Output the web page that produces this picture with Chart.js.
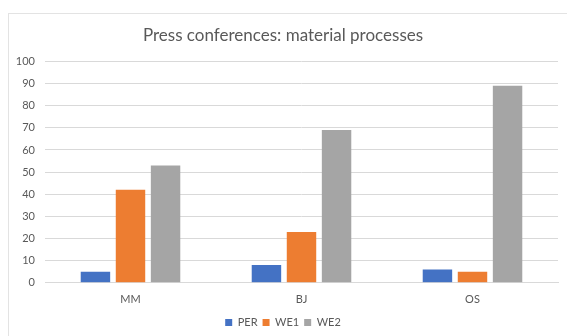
<!DOCTYPE html>
<html>
<head>
<meta charset="utf-8">
<script src="https://cdn.jsdelivr.net/npm/chart.js@4/dist/chart.umd.min.js"></script>
<style>
  html, body { margin: 0; padding: 0; background: #fff; }
  #wrap { position: relative; width: 567px; height: 336px; overflow: hidden; }
  #frame { position: absolute; left: 8px; top: 13px; width: 600px; height: 400px;
           border-left: 1px solid #e3e3e3; border-top: 1px solid #e3e3e3; }
  canvas { position: absolute; left: 8px; top: 0; }
</style>
</head>
<body>
<div id="wrap">
  <div id="frame"></div>
  <canvas id="chart" width="567" height="336"></canvas>
</div>
<script>
const categories = ['MM', 'BJ', 'OS'];
const perValues = [5, 8, 6];
const we1Values = [42, 23, 5];
const we2Values = [53, 69, 89];
const yTicks = [0, 10, 20, 30, 40, 50, 60, 70, 80, 90, 100];

const textColor = '#595959';
const fontFamily = 'Lato, "Liberation Sans", sans-serif';

new Chart(document.getElementById('chart'), {
  type: 'bar',
  data: {
    labels: categories,
    datasets: [
      { label: 'PER', data: perValues, backgroundColor: '#4472C4' },
      { label: 'WE1', data: we1Values, backgroundColor: '#ED7D31' },
      { label: 'WE2', data: we2Values, backgroundColor: '#A5A5A5' }
    ]
  },
  options: {
    responsive: false,
    animation: false,
    devicePixelRatio: 1,
    layout: { padding: { left: 0, right: 17, top: 0, bottom: -2 } },
    datasets: {
      bar: { categoryPercentage: 0.615, barPercentage: 0.84 }
    },
    plugins: {
      title: {
        display: true,
        text: 'Press conferences: material processes',
        color: textColor,
        font: { family: fontFamily, size: 17, weight: 'normal' },
        padding: { top: 25, bottom: 16 }
      },
      legend: {
        position: 'bottom',
        labels: {
          color: textColor,
          font: { family: fontFamily, size: 11 },
          boxWidth: 7,
          boxHeight: 7,
          padding: 5
        }
      },
      tooltip: { enabled: false }
    },
    scales: {
      x: {
        afterFit: (scale) => { scale.height += 4; },
        grid: { display: false },
        border: { display: true, color: '#d9d9d9' },
        ticks: { color: textColor, font: { family: fontFamily, size: 11 }, padding: 2 }
      },
      y: {
        min: 0,
        max: 100,
        afterFit: (scale) => { scale.width = 37; },
        afterBuildTicks: (scale) => { scale.ticks = yTicks.map(v => ({ value: v })); },
        grid: { color: '#d9d9d9', drawTicks: false },
        border: { display: false },
        ticks: { color: textColor, font: { family: fontFamily, size: 11 }, padding: 10 }
      }
    }
  }
});
</script>
</body>
</html>
